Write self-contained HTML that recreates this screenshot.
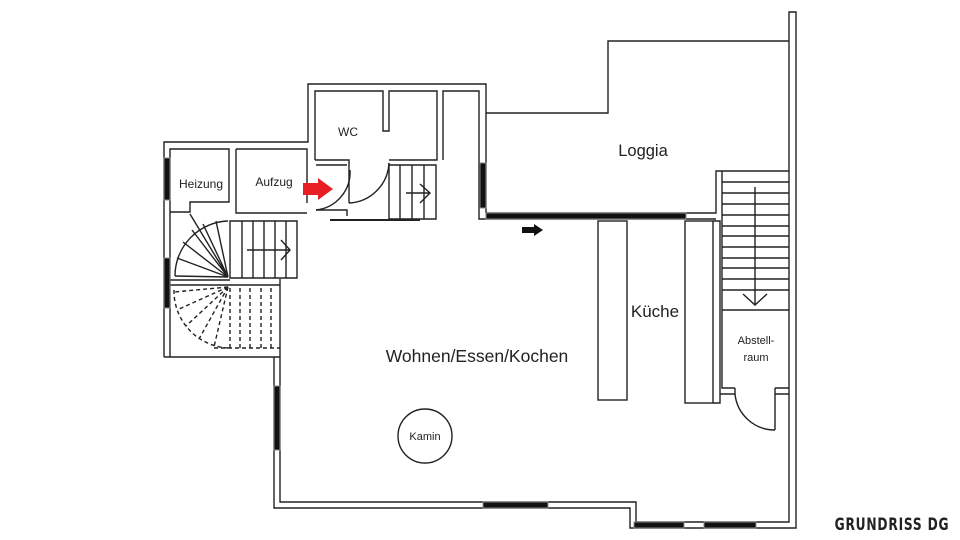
<!DOCTYPE html>
<html><head><meta charset="utf-8"><style>
html,body{margin:0;padding:0;background:#fff;}
svg{display:block}
text{font-family:"Liberation Sans",sans-serif;fill:#222}
</style></head><body>
<svg width="960" height="540" viewBox="0 0 960 540" xmlns="http://www.w3.org/2000/svg">
<g fill="none" stroke="#222" stroke-width="1.4">
<path d="M164 357 L164 142 L308 142 L308 84 L486 84 L486 213"/>
<path d="M170 357 L170 149 L229 149 L229 202 L190 202 L190 212 L170 212"/>
<path d="M236 149 L307 149 L307 203 M236 149 L236 213 L307 213"/>
<path d="M315 160 L315 91 L383 91 L383 131 L389 131 L389 91 L437 91 L437 160 L389 160"/>
<path d="M315 160 L349 160 L349 203"/>
<path d="M443 160 L443 91 L479 91 L479 219 L486 219"/>
<path d="M316 165 L347 165 M316 210 L347 210 L347 216"/>
<path d="M316 210 A 38 38 0 0 0 350 170"/>
<path d="M349 203 A 42 42 0 0 0 389 163"/>
<path d="M389 163 L389 219 L436 219 L436 165 L389 165 M400 165 L400 219 M412 165 L412 219 M424 165 L424 219"/>
<path d="M406 193 L430 193 M420 184 L430 193 L420 203"/>
<path d="M330 220 L420 220" stroke-width="2"/>
<path d="M230 221 L297 221 L297 278 L230 278 Z M242 221 L242 278 M253 221 L253 278 M264 221 L264 278 M275 221 L275 278 M286 221 L286 278"/>
<path d="M247 250 L290 250 M281 240 L290 250 L281 260"/>
<path d="M170 280 L230 280 M170 285 L280 285 M280 279 L280 357 M170 357 L280 357 M164 357 L170 357"/>
<path d="M175 276 A 55 55 0 0 1 228 221"/>
<path d="M228 277 L175 276 M228 277 L177 258 M228 277 L183 242 M228 277 L192 230 M228 277 L203 224 M228 277 L216 221 M228 277 L190 214"/>
<g stroke-dasharray="4 3">
<path d="M174 290 A 57 57 0 0 0 228 348"/>
<path d="M228 287 L174 292 M228 287 L177 310 M228 287 L186 326 M228 287 L199 339 M228 287 L214 347"/>
<path d="M230 288 L230 348 M240 288 L240 348 M250 288 L250 348 M261 288 L261 348 M271 288 L271 348 M214 348 L280 348"/>
</g>
<path d="M274 357 L274 508 L630 508 L630 528 L796 528 L796 12 L789 12 L789 522 L636 522 L636 502 L280 502 L280 357"/>
<path d="M486 113 L608 113 L608 41 L789 41"/>
<path d="M486 213 L716 213 L716 171 L722 171 M486 219 L716 219"/>
<rect x="598" y="221" width="29" height="179"/>
<rect x="685" y="221" width="28" height="182"/>
<path d="M713 221 L720 221 L720 403 L713 403 M722 171 L722 388 L735 388 M722 171 L789 171"/>
<path d="M722 182 L789 182 M722 193 L789 193 M722 204 L789 204 M722 215 L789 215 M722 226 L789 226 M722 236 L789 236 M722 247 L789 247 M722 258 L789 258 M722 268 L789 268 M722 279 L789 279 M722 290 L789 290 M722 310 L789 310"/>
<path d="M755 187 L755 305 M743 294 L755 305 L767 294"/>
<path d="M720 394 L735 394 M775 388 L789 388 M775 394 L789 394 M735 388 L735 394 M775 388 L775 430"/>
<path d="M735 394 A 40 40 0 0 0 775 430"/>
<circle cx="425" cy="436" r="27"/>
</g>
<g fill="#111" stroke="#888" stroke-width="1">
<rect x="164" y="158" width="6" height="42"/>
<rect x="164" y="258" width="6" height="50"/>
<rect x="480" y="163" width="6" height="45"/>
<rect x="486" y="213" width="200" height="6"/>
<rect x="274" y="386" width="6" height="64"/>
<rect x="483" y="502" width="65" height="6"/>
<rect x="634" y="522" width="50" height="6"/>
<rect x="704" y="522" width="52" height="6"/>
</g>
<path d="M303 183 L318 183 L318 178 L333 189 L318 200 L318 195 L303 195 Z" fill="#e81e25"/>
<path d="M522 227 L534 227 L534 224 L543 230 L534 236 L534 233 L522 233 Z" fill="#111"/>
<text x="201" y="188" font-size="12" text-anchor="middle">Heizung</text>
<text x="274" y="186" font-size="12" text-anchor="middle">Aufzug</text>
<text x="348" y="136" font-size="12" text-anchor="middle">WC</text>
<text x="643" y="156" font-size="16.5" text-anchor="middle">Loggia</text>
<text x="655" y="317" font-size="17" text-anchor="middle">Küche</text>
<text x="477" y="362" font-size="17.5" text-anchor="middle">Wohnen/Essen/Kochen</text>
<text x="425" y="440" font-size="11" text-anchor="middle">Kamin</text>
<text x="756" y="344" font-size="11" text-anchor="middle">Abstell-</text>
<text x="756" y="361" font-size="11" text-anchor="middle">raum</text>
<text x="892" y="530" font-size="17" font-weight="bold" text-anchor="middle" style="font-family:'DejaVu Sans Condensed','Liberation Sans Narrow',sans-serif;letter-spacing:1px" transform="translate(892 0) scale(0.8 1) translate(-892 0)">GRUNDRISS DG</text>
</svg>
</body></html>
